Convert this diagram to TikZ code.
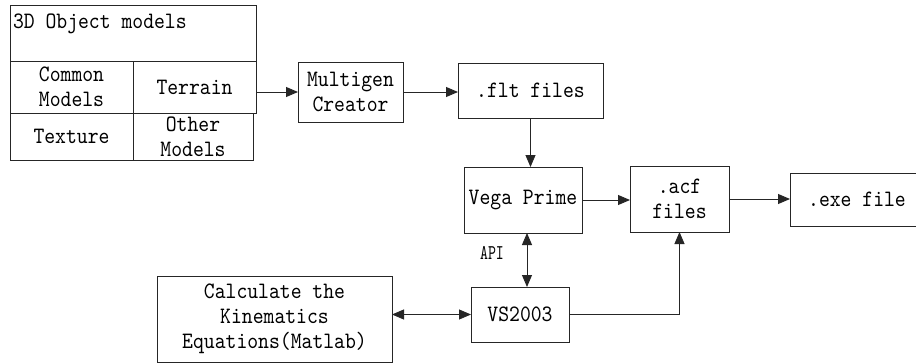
\documentclass[tikz,border=0pt]{standalone}
\usepackage{fontspec}
\setmonofont[FakeStretch=0.88]{lmmono10-regular.otf}
\newfontfamily\apifont[FakeStretch=0.72]{lmmono10-regular.otf}
\usetikzlibrary{arrows.meta}
\begin{document}
\begin{tikzpicture}[x=1pt,y=-1pt,
  txt/.style={inner sep=0pt, outer sep=0pt, align=center, font=\ttfamily\fontsize{23.5}{25}\selectfont},
  box/.style={txt, draw=black!85, line width=0.9pt},
  arr/.style={line width=0.9pt, draw=black!85, -{Triangle[length=12pt,width=10pt]}},
  darr/.style={line width=0.9pt, draw=black!85, {Triangle[length=12pt,width=10pt]}-{Triangle[length=12pt,width=10pt]}}]
\path[use as bounding box, clip] (0,0) rectangle (916,364);
\fill[white] (0,0) rectangle (916,364);
% 3D object models block
\node[box, minimum width=246, minimum height=56] (top) at (133,33) {};
\node[txt, anchor=base west] (title) at (13,28) {3D Object models};
\node[box, minimum width=123, minimum height=52] (common) at (71.5,87) {Common\\Models};
\node[box, minimum width=123, minimum height=52] (terrain) at (194.5,87) {Terrain};
\node[box, minimum width=123, minimum height=47] (texture) at (71.5,136.5) {Texture};
\node[box, minimum width=120, minimum height=47] (other) at (193,136.5) {Other\\Models};
% process boxes
\node[box, minimum width=105, minimum height=60] (mc) at (350.5,92) {Multigen\\Creator};
\node[box, minimum width=145, minimum height=55] (flt) at (530.5,90.5) {.flt files};
\node[box, minimum width=118, minimum height=66] (vega) at (523,200) {Vega Prime};
\node[box, minimum width=99, minimum height=66] (acf) at (679.5,199) {.acf\\files};
\node[box, minimum width=134, minimum height=53] (exe) at (857,199.5) {.exe file};
\node[box, minimum width=98, minimum height=55] (vs) at (520,314.5) {VS2003};
\node[box, minimum width=235, minimum height=86] (calc) at (274.5,319) {Calculate the\\Kinematics\\Equations(Matlab)};
\node[inner sep=0pt, font=\apifont\fontsize{21}{21}\selectfont] (api) at (492,253) {API};
\coordinate (apix) at (527,0);
% connectors
\draw[arr] (terrain.east |- mc.west) -- (mc.west);
\draw[arr] (mc.east) -- (mc.east -| flt.west);
\draw[arr] (flt.south) -- (flt.south |- vega.north);
\draw[arr] (vega.east) -- (vega.east -| acf.west);
\draw[arr] (acf.east) -- (acf.east -| exe.west);
\draw[darr] (vega.south -| apix) -- (vs.north -| apix);
\draw[darr] (calc.east |- vs.west) -- (vs.west);
\draw[arr] (vs.east) -| (acf.south);
\end{tikzpicture}
\end{document}
